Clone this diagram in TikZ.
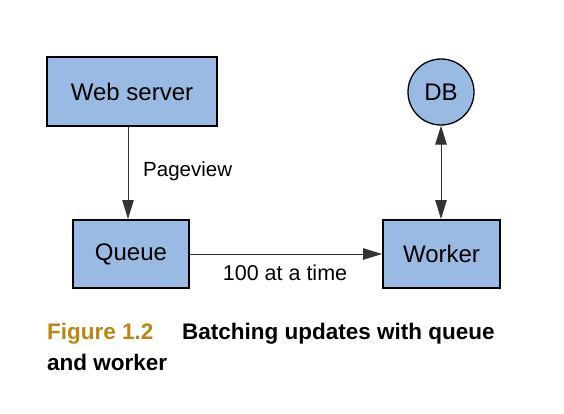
\documentclass[tikz,border=0pt]{standalone}
\usepackage{fontspec}
\setmainfont{Liberation Sans}
\usetikzlibrary{arrows.meta}
\definecolor{boxblue}{RGB}{153,187,227}
\definecolor{capgold}{RGB}{186,134,18}
\begin{document}
\begin{tikzpicture}[x=1pt,y=-1pt,
  box/.style={draw=black,line width=2pt,fill=boxblue,inner sep=0pt,font=\fontsize{24}{28}\selectfont},
  dbnode/.style={circle,draw=black,line width=1.3pt,fill=boxblue,inner sep=0pt,minimum size=66pt,font=\fontsize{24}{28}\selectfont},
  conn/.style={draw=black!80,line width=1pt,-{Triangle[length=19pt,width=11.5pt]}},
  conn2/.style={draw=black!80,line width=1pt,{Triangle[length=19pt,width=11.5pt]}-{Triangle[length=19pt,width=11.5pt]}},
  lbl/.style={font=\fontsize{20.5}{24}\selectfont,inner sep=0pt},
  captext/.style={font=\fontsize{22.5}{26}\selectfont\bfseries,inner sep=0pt,anchor=base west}
]
\useasboundingbox (0,0) rectangle (564,414);
\node[box,minimum width=170pt,minimum height=69pt] (web) at (132,91.5) {Web server};
\node[box,minimum width=116pt,minimum height=68pt] (queue) at (131,254) {Queue};
\node[box,minimum width=117pt,minimum height=68pt] (worker) at (441.5,254) {Worker};
\node[dbnode] (db) at (441,92) {DB};
\coordinate (ax) at (128,0);
\draw[conn] (web.south -| ax) -- (queue.north -| ax);
\draw[conn] (queue.east) -- (worker.west);
\draw[conn2] (db.south) -- (db.south |- worker.north);
\node[lbl,anchor=west] (pv) at (143,171) {Pageview};
\node[lbl,font=\fontsize{21.5}{25}\selectfont] (batch) at (285,273) {100 at a time};
\node[captext,text=capgold] (fig) at (47,339) {Figure 1.2};
\node[captext] (cap1) at (182,339) {Batching updates with queue};
\node[captext] (cap2) at (47,370) {and worker};
\end{tikzpicture}
\end{document}
